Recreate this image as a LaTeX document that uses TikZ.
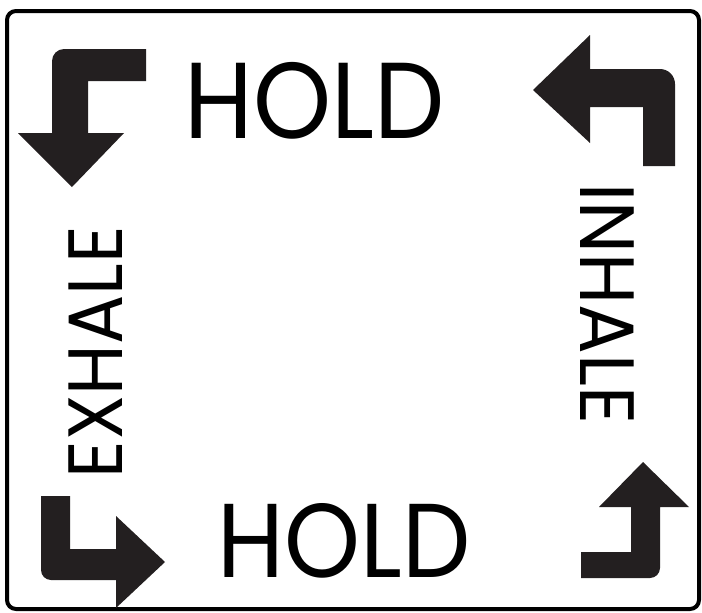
\documentclass[tikz,border=0pt]{standalone}
\usepackage{fontspec}
\setmainfont{Poppins}
\definecolor{arrowblack}{HTML}{231F20}
\begin{document}
\begin{tikzpicture}[x=1pt,y=-1pt,
  arrowshape/.style={fill=arrowblack},
  frame/.style={draw=black,line width=4pt,rounded corners=9pt},
  word/.style={inner sep=0pt,text=black,anchor=base}]
\useasboundingbox (0,0) rectangle (702,613);
\draw[frame] (7,11) rectangle (699,609);
% top-left arrow (down)
\fill[arrowshape] (146,49) -- (64,49) .. controls (57.4,49) and (52,54.4) .. (52,61)
  -- (52,133) -- (18,133) -- (72,187) -- (124,133) -- (88,133) -- (88,81) -- (146,81) -- cycle;
% top-right arrow (left)
\fill[arrowshape] (533,90) -- (590,35) -- (590,69) -- (660,69) .. controls (668.3,69) and (675,75.7) .. (675,84)
  -- (675,166) -- (643,166) -- (643,107) -- (590,107) -- (590,143) -- cycle;
% bottom-left arrow (right)
\fill[arrowshape] (41,496) -- (70,496) -- (70,549) -- (116,549) -- (116,516) -- (165,562) -- (116,608)
  -- (116,580) -- (51,580) .. controls (45.5,580) and (41,575.5) .. (41,570) -- cycle;
% bottom-right arrow (up)
\fill[arrowshape] (643,462) -- (689,507) -- (660,507) -- (660,568) .. controls (660,573.5) and (655.5,578) .. (650,578)
  -- (581,578) -- (581,552) -- (631,552) -- (631,507) -- (599,507) -- cycle;
% texts
\node[word,font=\fontsize{108}{108}\selectfont] (holdtop) at (315,138) {\scalebox{0.92}[1]{HOLD}};
\node[word,font=\fontsize{105}{105}\selectfont] (holdbot) at (344,577) {\scalebox{0.92}[1]{HOLD}};
\node[word,rotate=90,font=\fontsize{77}{77}\selectfont] (exhale) at (122,352) {\scalebox{0.95}[1]{EXHALE}};
\node[word,rotate=-90,font=\fontsize{77}{77}\selectfont] (inhale) at (580,303.5) {\scalebox{0.96}[1]{INHALE}};
\end{tikzpicture}
\end{document}
